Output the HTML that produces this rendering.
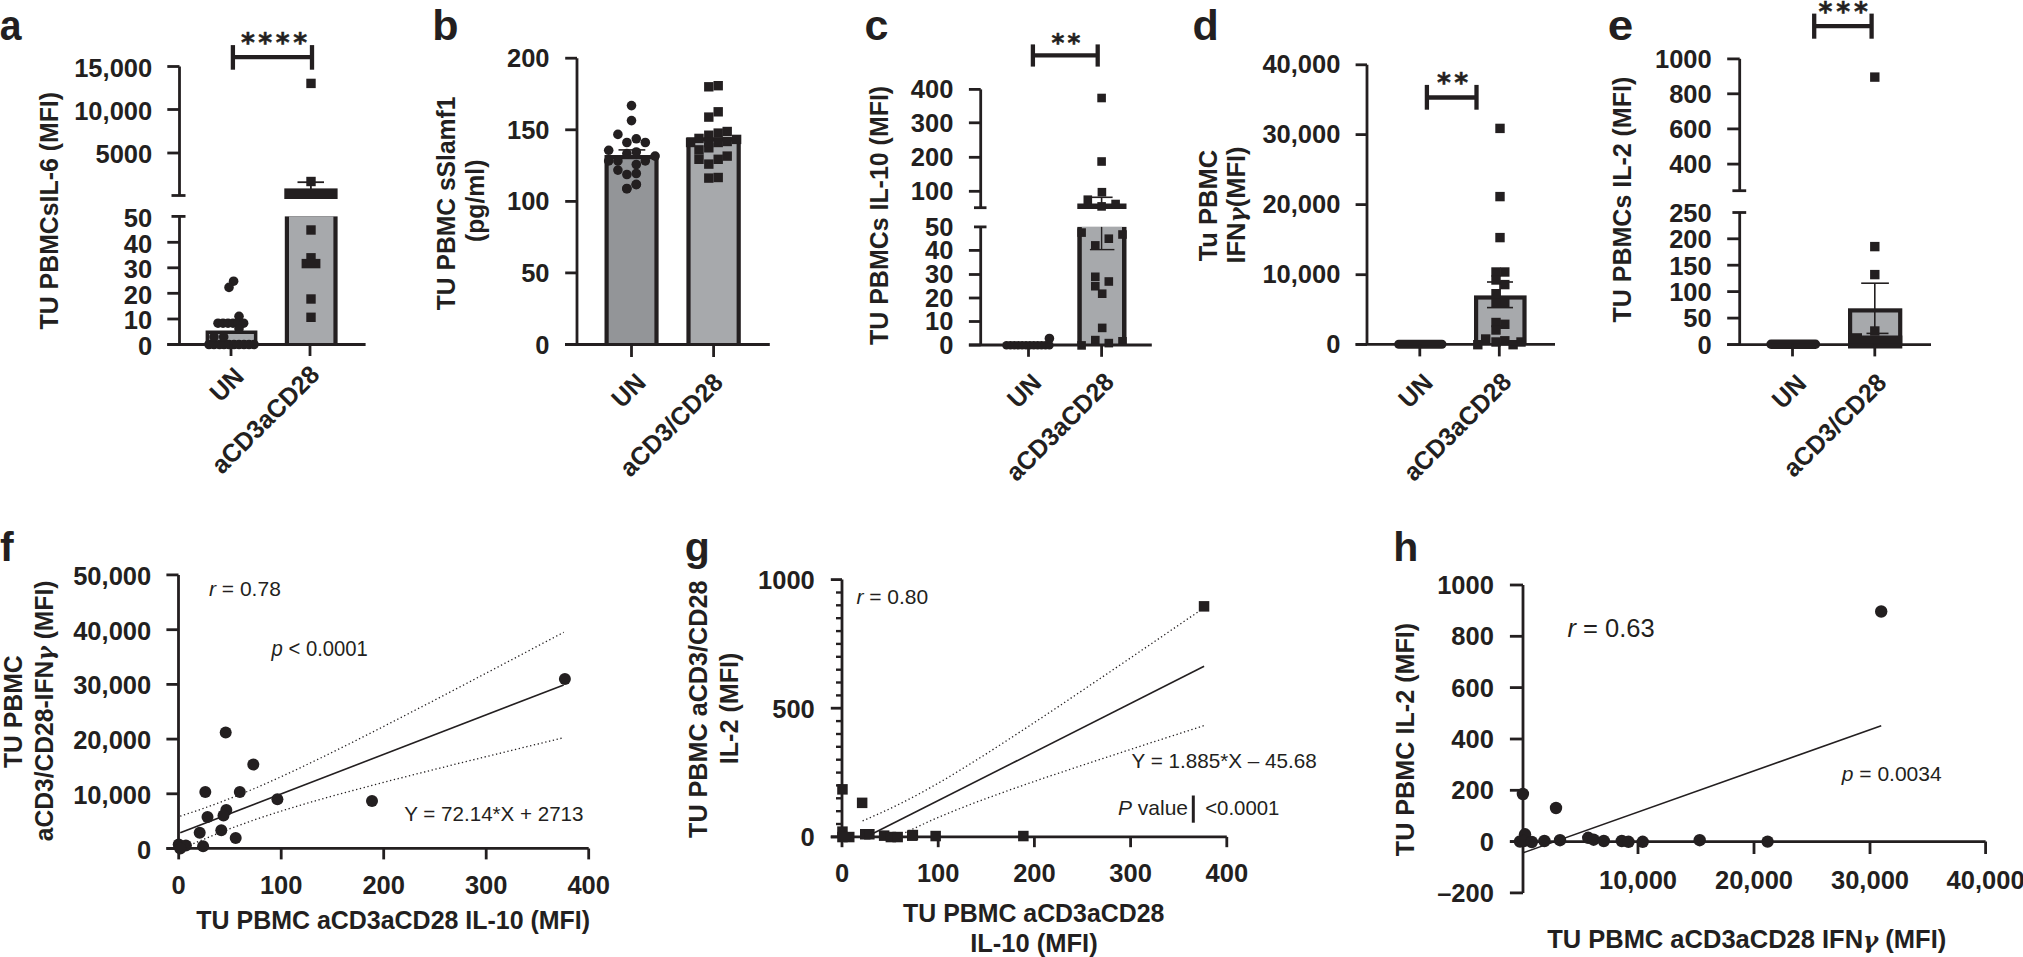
<!DOCTYPE html>
<html><head><meta charset="utf-8"><title>Figure</title>
<style>
html,body{margin:0;padding:0;background:#fff;}
svg{display:block;}
text{font-family:"Liberation Sans",Arial,sans-serif;font-weight:bold;fill:#231f20;}
text.n{font-weight:normal;}
tspan.gam{font-family:"DejaVu Serif",serif;font-style:italic;font-weight:bold;font-size:0.9em;}
text.st{font-family:"DejaVu Sans","Liberation Sans",sans-serif;font-weight:bold;stroke:#231f20;stroke-width:0.5;}
line{stroke:#231f20;}
.dot{fill:none;stroke:#231f20;stroke-width:1.3;stroke-dasharray:1.3 2.6;}
</style></head>
<body>
<svg width="2023" height="957" viewBox="0 0 2023 957" fill="#231f20">
<rect x="0" y="0" width="2023" height="957" fill="#fff"/>
<text font-size="43" transform="translate(-0.2 40.3) scale(0.91 1)">a</text>
<line x1="179.5" y1="66.5" x2="179.5" y2="195.5" stroke-width="2.8" />
<line x1="167.3" y1="66.5" x2="179.5" y2="66.5" stroke-width="2.8" />
<text x="152.2" y="76.8" font-size="25.5" text-anchor="end">15,000</text>
<line x1="167.3" y1="109.5" x2="179.5" y2="109.5" stroke-width="2.8" />
<text x="152.2" y="119.8" font-size="25.5" text-anchor="end">10,000</text>
<line x1="167.3" y1="153.0" x2="179.5" y2="153.0" stroke-width="2.8" />
<text x="152.2" y="163.3" font-size="25.5" text-anchor="end">5000</text>
<line x1="171.5" y1="195.5" x2="185.5" y2="195.5" stroke-width="2.8" />
<line x1="179.5" y1="216.4" x2="179.5" y2="344.5" stroke-width="2.8" />
<line x1="171.5" y1="216.4" x2="185.5" y2="216.4" stroke-width="2.8" />
<text x="152.2" y="226.7" font-size="25.5" text-anchor="end">50</text>
<line x1="167.3" y1="242.3" x2="179.5" y2="242.3" stroke-width="2.8" />
<text x="152.2" y="252.6" font-size="25.5" text-anchor="end">40</text>
<line x1="167.3" y1="267.8" x2="179.5" y2="267.8" stroke-width="2.8" />
<text x="152.2" y="278.1" font-size="25.5" text-anchor="end">30</text>
<line x1="167.3" y1="293.3" x2="179.5" y2="293.3" stroke-width="2.8" />
<text x="152.2" y="303.6" font-size="25.5" text-anchor="end">20</text>
<line x1="167.3" y1="319.0" x2="179.5" y2="319.0" stroke-width="2.8" />
<text x="152.2" y="329.3" font-size="25.5" text-anchor="end">10</text>
<line x1="167.3" y1="344.5" x2="179.5" y2="344.5" stroke-width="2.8" />
<text x="152.2" y="354.8" font-size="25.5" text-anchor="end">0</text>
<rect x="205.6" y="330.5" width="51.8" height="14.0" fill="#231f20"/>
<rect x="209.1" y="334.0" width="44.8" height="10.5" fill="#a7a9ac"/>
<rect x="284.8" y="216.4" width="52.8" height="128.1" fill="#231f20"/>
<rect x="289.0" y="216.4" width="44.4" height="128.1" fill="#a7a9ac"/>
<rect x="284.3" y="188.4" width="53.3" height="10.6" fill="#231f20"/>
<line x1="310.9" y1="182.2" x2="310.9" y2="189.0" stroke-width="1.8" />
<line x1="297.5" y1="182.2" x2="324.0" y2="182.2" stroke-width="1.8" />
<rect x="306.3" y="176.8" width="9.4" height="9.4"/>
<rect x="306.3" y="78.7" width="9.4" height="9.4"/>
<rect x="306.3" y="225.3" width="9.4" height="9.4"/>
<rect x="306.3" y="253.1" width="9.4" height="9.4"/>
<rect x="301.6" y="258.9" width="9.4" height="9.4"/>
<rect x="311.0" y="258.9" width="9.4" height="9.4"/>
<rect x="306.3" y="294.3" width="9.4" height="9.4"/>
<rect x="306.3" y="312.6" width="9.4" height="9.4"/>
<circle cx="233.6" cy="281.2" r="4.8"/>
<circle cx="229.0" cy="287.4" r="4.8"/>
<circle cx="239.0" cy="316.3" r="4.8"/>
<circle cx="218.0" cy="323.2" r="4.8"/>
<circle cx="223.0" cy="323.2" r="4.8"/>
<circle cx="228.0" cy="323.2" r="4.8"/>
<circle cx="233.0" cy="323.2" r="4.8"/>
<circle cx="238.0" cy="323.2" r="4.8"/>
<circle cx="243.6" cy="323.2" r="4.8"/>
<circle cx="239.0" cy="328.8" r="4.8"/>
<circle cx="209.0" cy="344.5" r="4.8"/>
<circle cx="214.0" cy="344.5" r="4.8"/>
<circle cx="219.5" cy="344.5" r="4.8"/>
<circle cx="224.0" cy="344.5" r="4.8"/>
<circle cx="229.0" cy="344.5" r="4.8"/>
<circle cx="234.0" cy="344.5" r="4.8"/>
<circle cx="239.0" cy="344.5" r="4.8"/>
<circle cx="244.0" cy="344.5" r="4.8"/>
<circle cx="249.0" cy="344.5" r="4.8"/>
<circle cx="254.0" cy="344.5" r="4.8"/>
<circle cx="214.0" cy="337.0" r="4.8"/>
<circle cx="223.7" cy="337.0" r="4.8"/>
<line x1="167.3" y1="344.5" x2="365.6" y2="344.5" stroke-width="2.8" />
<line x1="231.0" y1="344.5" x2="231.0" y2="356.0" stroke-width="2.8" />
<line x1="310.0" y1="344.5" x2="310.0" y2="356.0" stroke-width="2.8" />
<text font-size="25.5" text-anchor="end" transform="translate(245.5 378.0) rotate(-45) scale(0.97 1)">UN</text>
<text font-size="25.5" text-anchor="end" transform="translate(321.0 376.2) rotate(-45) scale(0.97 1)">aCD3aCD28</text>
<line x1="232.9" y1="45.1" x2="232.9" y2="69.7" stroke-width="4.3" />
<line x1="312.0" y1="45.1" x2="312.0" y2="69.7" stroke-width="4.3" />
<line x1="232.9" y1="57.2" x2="312.0" y2="57.2" stroke-width="4.3" />
<text class="st" x="247.9" y="52.0" font-size="26.5" text-anchor="middle">*</text>
<text class="st" x="265.2" y="52.0" font-size="26.5" text-anchor="middle">*</text>
<text class="st" x="282.7" y="52.0" font-size="26.5" text-anchor="middle">*</text>
<text class="st" x="300.1" y="52.0" font-size="26.5" text-anchor="middle">*</text>
<text font-size="25.5" text-anchor="middle" transform="translate(58.0 210.7) rotate(-90) scale(0.975 1)">TU PBMCsIL-6 (MFI)</text>
<text x="432.2" y="40.3" font-size="43">b</text>
<line x1="577.0" y1="58.2" x2="577.0" y2="344.5" stroke-width="2.8" />
<line x1="565.2" y1="58.2" x2="577.0" y2="58.2" stroke-width="2.8" />
<text x="549.5" y="67.2" font-size="25.5" text-anchor="end">200</text>
<line x1="565.2" y1="129.8" x2="577.0" y2="129.8" stroke-width="2.8" />
<text x="549.5" y="138.8" font-size="25.5" text-anchor="end">150</text>
<line x1="565.2" y1="201.4" x2="577.0" y2="201.4" stroke-width="2.8" />
<text x="549.5" y="210.4" font-size="25.5" text-anchor="end">100</text>
<line x1="565.2" y1="272.9" x2="577.0" y2="272.9" stroke-width="2.8" />
<text x="549.5" y="281.9" font-size="25.5" text-anchor="end">50</text>
<line x1="565.2" y1="344.5" x2="577.0" y2="344.5" stroke-width="2.8" />
<text x="549.5" y="353.5" font-size="25.5" text-anchor="end">0</text>
<rect x="604.5" y="155.0" width="54.1" height="189.5" fill="#231f20"/>
<rect x="608.7" y="159.2" width="45.7" height="185.3" fill="#939598"/>
<rect x="686.4" y="137.3" width="54.4" height="207.2" fill="#231f20"/>
<rect x="690.6" y="141.5" width="46.0" height="203.0" fill="#a7a9ac"/>
<line x1="618.5" y1="149.9" x2="645.3" y2="149.9" stroke-width="1.6" />
<circle cx="631.5" cy="105.6" r="4.8"/>
<circle cx="631.5" cy="120.6" r="4.8"/>
<circle cx="617.9" cy="134.4" r="4.8"/>
<circle cx="626.9" cy="142.5" r="4.8"/>
<circle cx="636.3" cy="138.8" r="4.8"/>
<circle cx="645.3" cy="142.5" r="4.8"/>
<circle cx="608.7" cy="150.3" r="4.8"/>
<circle cx="626.9" cy="153.6" r="4.8"/>
<circle cx="636.3" cy="152.0" r="4.8"/>
<circle cx="655.1" cy="156.1" r="4.8"/>
<circle cx="608.7" cy="160.9" r="4.8"/>
<circle cx="617.9" cy="160.9" r="4.8"/>
<circle cx="645.3" cy="160.9" r="4.8"/>
<circle cx="636.3" cy="164.5" r="4.8"/>
<circle cx="617.9" cy="170.1" r="4.8"/>
<circle cx="626.9" cy="174.5" r="4.8"/>
<circle cx="636.3" cy="173.5" r="4.8"/>
<circle cx="626.9" cy="188.5" r="4.8"/>
<circle cx="636.3" cy="184.3" r="4.8"/>
<circle cx="626.8" cy="188.8" r="4.8"/>
<circle cx="636.2" cy="184.7" r="4.8"/>
<rect x="704.1" y="82.1" width="9.4" height="9.4"/>
<rect x="713.5" y="81.0" width="9.4" height="9.4"/>
<rect x="704.1" y="112.4" width="9.4" height="9.4"/>
<rect x="713.5" y="107.1" width="9.4" height="9.4"/>
<rect x="704.1" y="130.5" width="9.4" height="9.4"/>
<rect x="713.5" y="128.4" width="9.4" height="9.4"/>
<rect x="722.5" y="126.8" width="9.4" height="9.4"/>
<rect x="694.3" y="133.7" width="9.4" height="9.4"/>
<rect x="685.9" y="137.8" width="9.4" height="9.4"/>
<rect x="731.9" y="134.7" width="9.4" height="9.4"/>
<rect x="694.3" y="145.2" width="9.4" height="9.4"/>
<rect x="694.3" y="154.6" width="9.4" height="9.4"/>
<rect x="704.1" y="143.1" width="9.4" height="9.4"/>
<rect x="704.1" y="159.4" width="9.4" height="9.4"/>
<rect x="713.5" y="154.6" width="9.4" height="9.4"/>
<rect x="722.5" y="151.4" width="9.4" height="9.4"/>
<rect x="722.5" y="136.8" width="9.4" height="9.4"/>
<rect x="704.1" y="173.4" width="9.4" height="9.4"/>
<rect x="713.5" y="172.8" width="9.4" height="9.4"/>
<rect x="713.5" y="137.8" width="9.4" height="9.4"/>
<rect x="704.1" y="137.8" width="9.4" height="9.4"/>
<line x1="565.0" y1="344.5" x2="769.8" y2="344.5" stroke-width="2.8" />
<line x1="631.5" y1="344.5" x2="631.5" y2="357.0" stroke-width="2.8" />
<line x1="713.6" y1="344.5" x2="713.6" y2="357.0" stroke-width="2.8" />
<text font-size="25.5" text-anchor="end" transform="translate(647.3 384.1) rotate(-45) scale(0.97 1)">UN</text>
<text font-size="25.5" text-anchor="end" transform="translate(724.6 384.0) rotate(-45) scale(0.97 1)">aCD3/CD28</text>
<text font-size="25.5" text-anchor="middle" transform="translate(455.2 203.4) rotate(-90) scale(0.967 1)">TU PBMC sSlamf1</text>
<text font-size="25.5" text-anchor="middle" transform="translate(484.0 200.8) rotate(-90) scale(0.97 1)">(pg/ml)</text>
<text x="864.5" y="40.3" font-size="43">c</text>
<line x1="980.7" y1="89.4" x2="980.7" y2="207.7" stroke-width="2.8" />
<line x1="968.9" y1="89.4" x2="980.7" y2="89.4" stroke-width="2.8" />
<text x="953.4" y="98.2" font-size="25.5" text-anchor="end">400</text>
<line x1="968.9" y1="122.8" x2="980.7" y2="122.8" stroke-width="2.8" />
<text x="953.4" y="131.6" font-size="25.5" text-anchor="end">300</text>
<line x1="968.9" y1="157.3" x2="980.7" y2="157.3" stroke-width="2.8" />
<text x="953.4" y="166.1" font-size="25.5" text-anchor="end">200</text>
<line x1="968.9" y1="191.3" x2="980.7" y2="191.3" stroke-width="2.8" />
<text x="953.4" y="200.1" font-size="25.5" text-anchor="end">100</text>
<line x1="974.0" y1="207.7" x2="986.5" y2="207.7" stroke-width="2.8" />
<line x1="980.7" y1="226.9" x2="980.7" y2="345.0" stroke-width="2.8" />
<line x1="974.0" y1="226.9" x2="986.5" y2="226.9" stroke-width="2.8" />
<text x="953.4" y="235.7" font-size="25.5" text-anchor="end">50</text>
<line x1="968.9" y1="250.4" x2="980.7" y2="250.4" stroke-width="2.8" />
<text x="953.4" y="259.2" font-size="25.5" text-anchor="end">40</text>
<line x1="968.9" y1="274.5" x2="980.7" y2="274.5" stroke-width="2.8" />
<text x="953.4" y="283.3" font-size="25.5" text-anchor="end">30</text>
<line x1="968.9" y1="298.0" x2="980.7" y2="298.0" stroke-width="2.8" />
<text x="953.4" y="306.8" font-size="25.5" text-anchor="end">20</text>
<line x1="968.9" y1="321.5" x2="980.7" y2="321.5" stroke-width="2.8" />
<text x="953.4" y="330.3" font-size="25.5" text-anchor="end">10</text>
<line x1="968.9" y1="345.0" x2="980.7" y2="345.0" stroke-width="2.8" />
<text x="953.4" y="353.8" font-size="25.5" text-anchor="end">0</text>
<rect x="1077.3" y="226.9" width="49.2" height="118.1" fill="#231f20"/>
<rect x="1081.8" y="226.9" width="40.2" height="118.1" fill="#a7a9ac"/>
<rect x="1077.3" y="203.5" width="49.2" height="5.5" fill="#231f20"/>
<line x1="1101.6" y1="226.9" x2="1101.6" y2="249.6" stroke-width="1.4" />
<line x1="1089.9" y1="249.6" x2="1114.4" y2="249.6" stroke-width="1.4" />
<line x1="1101.6" y1="197.3" x2="1101.6" y2="204.0" stroke-width="1.6" />
<line x1="1091.7" y1="197.3" x2="1112.6" y2="197.3" stroke-width="1.6" />
<rect x="1097.3" y="93.7" width="8.6" height="8.6"/>
<rect x="1097.3" y="157.2" width="8.6" height="8.6"/>
<rect x="1097.6" y="187.9" width="8.6" height="8.6"/>
<rect x="1083.5" y="195.4" width="8.6" height="8.6"/>
<rect x="1111.3" y="199.7" width="8.6" height="8.6"/>
<rect x="1097.3" y="202.1" width="8.6" height="8.6"/>
<rect x="1077.3" y="228.3" width="8.6" height="8.6"/>
<rect x="1104.5" y="234.4" width="8.6" height="8.6"/>
<rect x="1118.2" y="230.2" width="8.6" height="8.6"/>
<rect x="1091.0" y="241.1" width="8.6" height="8.6"/>
<rect x="1091.0" y="272.5" width="8.6" height="8.6"/>
<rect x="1104.5" y="277.2" width="8.6" height="8.6"/>
<rect x="1091.0" y="281.9" width="8.6" height="8.6"/>
<rect x="1097.9" y="289.4" width="8.6" height="8.6"/>
<rect x="1097.9" y="323.6" width="8.6" height="8.6"/>
<rect x="1091.0" y="335.8" width="8.6" height="8.6"/>
<rect x="1104.5" y="338.8" width="8.6" height="8.6"/>
<rect x="1077.3" y="341.1" width="8.6" height="8.6"/>
<rect x="1118.2" y="337.0" width="8.6" height="8.6"/>
<circle cx="1006.5" cy="345.3" r="4.3"/>
<circle cx="1010.4" cy="345.3" r="4.3"/>
<circle cx="1014.3" cy="345.3" r="4.3"/>
<circle cx="1018.2" cy="345.3" r="4.3"/>
<circle cx="1022.1" cy="345.3" r="4.3"/>
<circle cx="1026.0" cy="345.3" r="4.3"/>
<circle cx="1029.9" cy="345.3" r="4.3"/>
<circle cx="1033.8" cy="345.3" r="4.3"/>
<circle cx="1037.7" cy="345.3" r="4.3"/>
<circle cx="1041.6" cy="345.3" r="4.3"/>
<circle cx="1045.5" cy="345.3" r="4.3"/>
<circle cx="1049.4" cy="345.3" r="4.3"/>
<circle cx="1049.4" cy="338.5" r="4.8"/>
<line x1="968.9" y1="345.0" x2="1151.8" y2="345.0" stroke-width="2.8" />
<line x1="1028.5" y1="345.0" x2="1028.5" y2="356.8" stroke-width="2.8" />
<line x1="1101.6" y1="345.0" x2="1101.6" y2="356.8" stroke-width="2.8" />
<text font-size="25.5" text-anchor="end" transform="translate(1043.0 384.3) rotate(-45) scale(0.97 1)">UN</text>
<text font-size="25.5" text-anchor="end" transform="translate(1115.6 383.5) rotate(-45) scale(0.97 1)">aCD3aCD28</text>
<line x1="1032.9" y1="44.4" x2="1032.9" y2="66.6" stroke-width="4.3" />
<line x1="1097.7" y1="44.4" x2="1097.7" y2="66.6" stroke-width="4.3" />
<line x1="1032.9" y1="55.4" x2="1097.7" y2="55.4" stroke-width="4.3" />
<text class="st" x="1058.0" y="50.6" font-size="24.5" text-anchor="middle">*</text>
<text class="st" x="1074.0" y="50.6" font-size="24.5" text-anchor="middle">*</text>
<text font-size="25.5" text-anchor="middle" transform="translate(888.0 215.4) rotate(-90) scale(0.978 1)">TU PBMCs IL-10 (MFI)</text>
<text x="1192.5" y="40.0" font-size="43">d</text>
<line x1="1367.0" y1="64.8" x2="1367.0" y2="344.3" stroke-width="2.8" />
<line x1="1355.6" y1="64.8" x2="1367.0" y2="64.8" stroke-width="2.8" />
<text x="1340.4" y="73.4" font-size="25.5" text-anchor="end">40,000</text>
<line x1="1355.6" y1="134.6" x2="1367.0" y2="134.6" stroke-width="2.8" />
<text x="1340.4" y="143.2" font-size="25.5" text-anchor="end">30,000</text>
<line x1="1355.6" y1="204.6" x2="1367.0" y2="204.6" stroke-width="2.8" />
<text x="1340.4" y="213.2" font-size="25.5" text-anchor="end">20,000</text>
<line x1="1355.6" y1="274.7" x2="1367.0" y2="274.7" stroke-width="2.8" />
<text x="1340.4" y="283.3" font-size="25.5" text-anchor="end">10,000</text>
<line x1="1355.6" y1="344.5" x2="1367.0" y2="344.5" stroke-width="2.8" />
<text x="1340.4" y="353.1" font-size="25.5" text-anchor="end">0</text>
<rect x="1474.0" y="295.4" width="52.6" height="48.9" fill="#231f20"/>
<rect x="1478.2" y="299.6" width="44.2" height="44.7" fill="#a7a9ac"/>
<line x1="1500.0" y1="282.0" x2="1500.0" y2="307.6" stroke-width="1.6" />
<line x1="1487.0" y1="282.0" x2="1513.0" y2="282.0" stroke-width="1.6" />
<line x1="1487.0" y1="307.6" x2="1513.0" y2="307.6" stroke-width="1.6" />
<rect x="1495.3" y="123.7" width="9.4" height="9.4"/>
<rect x="1495.3" y="191.9" width="9.4" height="9.4"/>
<rect x="1495.3" y="232.9" width="9.4" height="9.4"/>
<rect x="1491.3" y="267.3" width="9.4" height="9.4"/>
<rect x="1500.1" y="267.3" width="9.4" height="9.4"/>
<rect x="1491.3" y="275.3" width="9.4" height="9.4"/>
<rect x="1500.1" y="279.9" width="9.4" height="9.4"/>
<rect x="1491.3" y="289.0" width="9.4" height="9.4"/>
<rect x="1491.3" y="298.3" width="9.4" height="9.4"/>
<rect x="1500.1" y="298.3" width="9.4" height="9.4"/>
<rect x="1491.3" y="317.8" width="9.4" height="9.4"/>
<rect x="1500.1" y="319.6" width="9.4" height="9.4"/>
<rect x="1491.3" y="325.3" width="9.4" height="9.4"/>
<rect x="1481.0" y="334.3" width="9.4" height="9.4"/>
<rect x="1473.1" y="340.0" width="9.4" height="9.4"/>
<rect x="1491.3" y="337.3" width="9.4" height="9.4"/>
<rect x="1500.1" y="336.1" width="9.4" height="9.4"/>
<rect x="1508.4" y="340.0" width="9.4" height="9.4"/>
<rect x="1516.3" y="337.3" width="9.4" height="9.4"/>
<rect x="1394.2" y="339.8" width="52.3" height="9" rx="4.5"/>
<line x1="1355.6" y1="344.3" x2="1555.0" y2="344.3" stroke-width="2.8" />
<line x1="1419.8" y1="344.3" x2="1419.8" y2="356.4" stroke-width="2.8" />
<line x1="1499.3" y1="344.3" x2="1499.3" y2="356.4" stroke-width="2.8" />
<text font-size="25.5" text-anchor="end" transform="translate(1434.3 384.3) rotate(-45) scale(0.97 1)">UN</text>
<text font-size="25.5" text-anchor="end" transform="translate(1513.0 383.5) rotate(-45) scale(0.97 1)">aCD3aCD28</text>
<line x1="1426.9" y1="84.9" x2="1426.9" y2="109.7" stroke-width="4.3" />
<line x1="1476.5" y1="84.9" x2="1476.5" y2="109.7" stroke-width="4.3" />
<line x1="1426.9" y1="97.5" x2="1476.5" y2="97.5" stroke-width="4.3" />
<text class="st" x="1443.9" y="91.9" font-size="26.5" text-anchor="middle">*</text>
<text class="st" x="1461.3" y="91.9" font-size="26.5" text-anchor="middle">*</text>
<text font-size="25.5" text-anchor="middle" transform="translate(1216.6 205.6) rotate(-90)">Tu PBMC</text>
<text font-size="25.5" text-anchor="middle" transform="translate(1245.3 205.0) rotate(-90)">IFN<tspan class="gam">γ</tspan>(MFI)</text>
<text font-size="43" transform="translate(1607.8 40.3) scale(1.067 1)">e</text>
<line x1="1739.7" y1="58.8" x2="1739.7" y2="190.7" stroke-width="2.8" />
<line x1="1727.2" y1="58.9" x2="1739.7" y2="58.9" stroke-width="2.8" />
<text x="1711.7" y="68.2" font-size="25.5" text-anchor="end">1000</text>
<line x1="1727.2" y1="93.8" x2="1739.7" y2="93.8" stroke-width="2.8" />
<text x="1711.7" y="103.1" font-size="25.5" text-anchor="end">800</text>
<line x1="1727.2" y1="128.9" x2="1739.7" y2="128.9" stroke-width="2.8" />
<text x="1711.7" y="138.2" font-size="25.5" text-anchor="end">600</text>
<line x1="1727.2" y1="164.1" x2="1739.7" y2="164.1" stroke-width="2.8" />
<text x="1711.7" y="173.4" font-size="25.5" text-anchor="end">400</text>
<line x1="1732.4" y1="190.7" x2="1746.2" y2="190.7" stroke-width="2.8" />
<line x1="1739.7" y1="212.5" x2="1739.7" y2="344.6" stroke-width="2.8" />
<line x1="1732.4" y1="212.5" x2="1746.2" y2="212.5" stroke-width="2.8" />
<text x="1711.7" y="221.8" font-size="25.5" text-anchor="end">250</text>
<line x1="1727.2" y1="238.8" x2="1739.7" y2="238.8" stroke-width="2.8" />
<text x="1711.7" y="248.1" font-size="25.5" text-anchor="end">200</text>
<line x1="1727.2" y1="265.2" x2="1739.7" y2="265.2" stroke-width="2.8" />
<text x="1711.7" y="274.5" font-size="25.5" text-anchor="end">150</text>
<line x1="1727.2" y1="291.6" x2="1739.7" y2="291.6" stroke-width="2.8" />
<text x="1711.7" y="300.9" font-size="25.5" text-anchor="end">100</text>
<line x1="1727.2" y1="318.1" x2="1739.7" y2="318.1" stroke-width="2.8" />
<text x="1711.7" y="327.4" font-size="25.5" text-anchor="end">50</text>
<line x1="1727.2" y1="344.6" x2="1739.7" y2="344.6" stroke-width="2.8" />
<text x="1711.7" y="353.9" font-size="25.5" text-anchor="end">0</text>
<rect x="1848.0" y="308.3" width="54.3" height="36.3" fill="#231f20"/>
<rect x="1852.2" y="312.5" width="45.9" height="32.1" fill="#a7a9ac"/>
<line x1="1874.8" y1="283.2" x2="1874.8" y2="333.6" stroke-width="1.6" />
<line x1="1861.2" y1="283.2" x2="1888.9" y2="283.2" stroke-width="1.6" />
<line x1="1866.5" y1="333.4" x2="1888.5" y2="333.4" stroke-width="1.6" />
<rect x="1870.1" y="72.4" width="9.4" height="9.4"/>
<rect x="1870.1" y="241.9" width="9.4" height="9.4"/>
<rect x="1870.1" y="269.9" width="9.4" height="9.4"/>
<rect x="1870.1" y="326.3" width="9.4" height="9.4"/>
<rect x="1848.0" y="335.5" width="54.3" height="13.0" fill="#231f20"/>
<rect x="1848.0" y="333.2" width="14.0" height="2.8" fill="#231f20"/>
<rect x="1766.3" y="339.6" width="53.9" height="9.4" rx="4.7"/>
<line x1="1727.2" y1="344.6" x2="1931.0" y2="344.6" stroke-width="2.8" />
<line x1="1792.5" y1="344.6" x2="1792.5" y2="356.4" stroke-width="2.8" />
<line x1="1874.8" y1="344.6" x2="1874.8" y2="356.4" stroke-width="2.8" />
<text font-size="25.5" text-anchor="end" transform="translate(1807.8 385.0) rotate(-45) scale(0.97 1)">UN</text>
<text font-size="25.5" text-anchor="end" transform="translate(1888.1 384.3) rotate(-45) scale(0.97 1)">aCD3/CD28</text>
<line x1="1814.2" y1="13.6" x2="1814.2" y2="38.7" stroke-width="4.3" />
<line x1="1871.6" y1="13.6" x2="1871.6" y2="38.7" stroke-width="4.3" />
<line x1="1814.2" y1="26.1" x2="1871.6" y2="26.1" stroke-width="4.3" />
<text class="st" x="1825.5" y="20.5" font-size="26.5" text-anchor="middle">*</text>
<text class="st" x="1843.2" y="20.5" font-size="26.5" text-anchor="middle">*</text>
<text class="st" x="1861.0" y="20.5" font-size="26.5" text-anchor="middle">*</text>
<text font-size="25.5" text-anchor="middle" transform="translate(1630.7 199.6) rotate(-90) scale(0.98 1)">TU PBMCs IL-2 (MFI)</text>
<text x="0.1" y="560.7" font-size="41">f</text>
<line x1="178.5" y1="574.9" x2="178.5" y2="848.4" stroke-width="2.8" />
<line x1="166.4" y1="574.9" x2="178.5" y2="574.9" stroke-width="2.8" />
<text x="151.2" y="584.9" font-size="25.5" text-anchor="end">50,000</text>
<line x1="166.4" y1="629.7" x2="178.5" y2="629.7" stroke-width="2.8" />
<text x="151.2" y="639.7" font-size="25.5" text-anchor="end">40,000</text>
<line x1="166.4" y1="684.4" x2="178.5" y2="684.4" stroke-width="2.8" />
<text x="151.2" y="694.4" font-size="25.5" text-anchor="end">30,000</text>
<line x1="166.4" y1="739.1" x2="178.5" y2="739.1" stroke-width="2.8" />
<text x="151.2" y="749.1" font-size="25.5" text-anchor="end">20,000</text>
<line x1="166.4" y1="793.8" x2="178.5" y2="793.8" stroke-width="2.8" />
<text x="151.2" y="803.8" font-size="25.5" text-anchor="end">10,000</text>
<line x1="166.4" y1="848.5" x2="178.5" y2="848.5" stroke-width="2.8" />
<text x="151.2" y="858.5" font-size="25.5" text-anchor="end">0</text>
<line x1="166.4" y1="848.4" x2="588.7" y2="848.4" stroke-width="2.8" />
<line x1="178.7" y1="848.5" x2="178.7" y2="859.4" stroke-width="2.8" />
<text x="178.7" y="893.7" font-size="25.5" text-anchor="middle">0</text>
<line x1="281.2" y1="848.5" x2="281.2" y2="859.4" stroke-width="2.8" />
<text x="281.2" y="893.7" font-size="25.5" text-anchor="middle">100</text>
<line x1="383.7" y1="848.5" x2="383.7" y2="859.4" stroke-width="2.8" />
<text x="383.7" y="893.7" font-size="25.5" text-anchor="middle">200</text>
<line x1="486.2" y1="848.5" x2="486.2" y2="859.4" stroke-width="2.8" />
<text x="486.2" y="893.7" font-size="25.5" text-anchor="middle">300</text>
<line x1="588.7" y1="848.5" x2="588.7" y2="859.4" stroke-width="2.8" />
<text x="588.7" y="893.7" font-size="25.5" text-anchor="middle">400</text>
<text font-size="25.5" text-anchor="middle" transform="translate(393.2 929.2) scale(0.979 1)">TU PBMC aCD3aCD28 IL-10 (MFI)</text>
<text font-size="25.5" text-anchor="middle" transform="translate(21.8 711.7) rotate(-90) scale(0.97 1)">TU PBMC</text>
<text font-size="25.5" text-anchor="middle" transform="translate(53.0 710.9) rotate(-90) scale(0.965 1)">aCD3/CD28-IFN<tspan class="gam">γ</tspan> (MFI)</text>
<polyline points="180.2,816.2 189.8,813.0 199.4,809.8 209.0,806.4 218.6,802.9 228.1,799.2 237.7,795.4 247.3,791.5 256.9,787.5 266.5,783.3 276.1,779.0 285.7,774.6 295.2,770.2 304.8,765.6 314.4,761.0 324.0,756.4 333.6,751.6 343.2,746.9 352.8,742.1 362.4,737.2 372.0,732.4 381.5,727.5 391.1,722.6 400.7,717.7 410.3,712.7 419.9,707.7 429.5,702.8 439.1,697.8 448.7,692.8 458.2,687.8 467.8,682.8 477.4,677.7 487.0,672.7 496.6,667.7 506.2,662.6 515.8,657.6 525.4,652.5 534.9,647.5 544.5,642.4 554.1,637.4 563.7,632.3" class="dot"/>
<polyline points="189.8,845.2 199.4,841.0 209.0,837.0 218.6,833.2 228.1,829.4 237.7,825.8 247.3,822.4 256.9,819.0 266.5,815.8 276.1,812.7 285.7,809.7 295.2,806.8 304.8,803.9 314.4,801.1 324.0,798.4 333.6,795.7 343.2,793.1 352.8,790.5 362.4,787.9 372.0,785.4 381.5,782.9 391.1,780.4 400.7,778.0 410.3,775.5 419.9,773.1 429.5,770.7 439.1,768.3 448.7,765.9 458.2,763.5 467.8,761.1 477.4,758.8 487.0,756.4 496.6,754.1 506.2,751.7 515.8,749.4 525.4,747.0 534.9,744.7 544.5,742.4 554.1,740.0 563.7,737.7" class="dot"/>
<line x1="180.2" y1="832.8" x2="563.7" y2="685.0" stroke-width="1.6" />
<circle cx="225.7" cy="732.5" r="6"/>
<circle cx="253.3" cy="764.5" r="6"/>
<circle cx="205.3" cy="792.0" r="6"/>
<circle cx="239.8" cy="792.0" r="6"/>
<circle cx="277.4" cy="799.2" r="6"/>
<circle cx="226.3" cy="809.9" r="6"/>
<circle cx="223.5" cy="815.5" r="6"/>
<circle cx="207.5" cy="817.1" r="6"/>
<circle cx="199.7" cy="832.8" r="6"/>
<circle cx="221.3" cy="830.3" r="6"/>
<circle cx="235.7" cy="838.1" r="6"/>
<circle cx="203.1" cy="846.3" r="6"/>
<circle cx="178.7" cy="844.4" r="6"/>
<circle cx="185.9" cy="845.6" r="6"/>
<circle cx="180.2" cy="848.5" r="6"/>
<circle cx="564.9" cy="679.1" r="6"/>
<circle cx="372.0" cy="801.0" r="6"/>
<text x="209" y="596" font-size="21" class="n"><tspan font-style="italic">r</tspan> = 0.78</text>
<text class="n" font-size="22.5" transform="translate(271.6 655.8) scale(0.9 1)"><tspan font-style="italic">p</tspan> &lt; 0.0001</text>
<text class="n" font-size="21" transform="translate(404.3 820.8) scale(0.98 1)">Y = 72.14*X + 2713</text>
<text x="684.8" y="560.5" font-size="41">g</text>
<line x1="842.0" y1="579.6" x2="842.0" y2="836.9" stroke-width="2.8" />
<line x1="830.8" y1="836.9" x2="842.0" y2="836.9" stroke-width="2.8" />
<line x1="836.0" y1="824.0" x2="842.0" y2="824.0" stroke-width="2.4" />
<line x1="836.0" y1="811.2" x2="842.0" y2="811.2" stroke-width="2.4" />
<line x1="836.0" y1="798.3" x2="842.0" y2="798.3" stroke-width="2.4" />
<line x1="836.0" y1="785.4" x2="842.0" y2="785.4" stroke-width="2.4" />
<line x1="836.0" y1="772.6" x2="842.0" y2="772.6" stroke-width="2.4" />
<line x1="836.0" y1="759.7" x2="842.0" y2="759.7" stroke-width="2.4" />
<line x1="836.0" y1="746.8" x2="842.0" y2="746.8" stroke-width="2.4" />
<line x1="836.0" y1="734.0" x2="842.0" y2="734.0" stroke-width="2.4" />
<line x1="836.0" y1="721.1" x2="842.0" y2="721.1" stroke-width="2.4" />
<line x1="830.8" y1="708.2" x2="842.0" y2="708.2" stroke-width="2.8" />
<line x1="836.0" y1="695.4" x2="842.0" y2="695.4" stroke-width="2.4" />
<line x1="836.0" y1="682.5" x2="842.0" y2="682.5" stroke-width="2.4" />
<line x1="836.0" y1="669.7" x2="842.0" y2="669.7" stroke-width="2.4" />
<line x1="836.0" y1="656.8" x2="842.0" y2="656.8" stroke-width="2.4" />
<line x1="836.0" y1="643.9" x2="842.0" y2="643.9" stroke-width="2.4" />
<line x1="836.0" y1="631.1" x2="842.0" y2="631.1" stroke-width="2.4" />
<line x1="836.0" y1="618.2" x2="842.0" y2="618.2" stroke-width="2.4" />
<line x1="836.0" y1="605.3" x2="842.0" y2="605.3" stroke-width="2.4" />
<line x1="836.0" y1="592.5" x2="842.0" y2="592.5" stroke-width="2.4" />
<line x1="830.8" y1="579.6" x2="842.0" y2="579.6" stroke-width="2.8" />
<text x="814.8" y="589.1" font-size="25.5" text-anchor="end">1000</text>
<text x="814.8" y="717.8" font-size="25.5" text-anchor="end">500</text>
<text x="814.8" y="846.4" font-size="25.5" text-anchor="end">0</text>
<line x1="830.8" y1="836.9" x2="1226.8" y2="836.9" stroke-width="2.8" />
<line x1="842.0" y1="836.9" x2="842.0" y2="847.2" stroke-width="2.8" />
<text x="842.0" y="882.0" font-size="25.5" text-anchor="middle">0</text>
<line x1="938.2" y1="836.9" x2="938.2" y2="847.2" stroke-width="2.8" />
<text x="938.2" y="882.0" font-size="25.5" text-anchor="middle">100</text>
<line x1="1034.4" y1="836.9" x2="1034.4" y2="847.2" stroke-width="2.8" />
<text x="1034.4" y="882.0" font-size="25.5" text-anchor="middle">200</text>
<line x1="1130.6" y1="836.9" x2="1130.6" y2="847.2" stroke-width="2.8" />
<text x="1130.6" y="882.0" font-size="25.5" text-anchor="middle">300</text>
<line x1="1226.8" y1="836.9" x2="1226.8" y2="847.2" stroke-width="2.8" />
<text x="1226.8" y="882.0" font-size="25.5" text-anchor="middle">400</text>
<text font-size="25.5" text-anchor="middle" transform="translate(1033.7 922.0) scale(0.976 1)">TU PBMC aCD3aCD28</text>
<text x="1033.9" y="952.0" font-size="25.5" text-anchor="middle">IL-10 (MFI)</text>
<text font-size="25.5" text-anchor="middle" transform="translate(706.7 709.3) rotate(-90) scale(0.988 1)">TU PBMC aCD3/CD28</text>
<text font-size="25.5" text-anchor="middle" transform="translate(737.6 708.4) rotate(-90) scale(0.986 1)">IL-2 (MFI)</text>
<polyline points="862.6,820.9 871.1,817.2 879.7,813.4 888.2,809.5 896.8,805.4 905.3,801.1 913.8,796.7 922.4,792.1 930.9,787.3 939.4,782.5 948.0,777.5 956.5,772.3 965.0,767.1 973.6,761.8 982.1,756.5 990.7,751.0 999.2,745.5 1007.7,740.0 1016.3,734.4 1024.8,728.8 1033.3,723.2 1041.9,717.6 1050.4,711.9 1059.0,706.2 1067.5,700.5 1076.0,694.7 1084.6,689.0 1093.1,683.2 1101.6,677.5 1110.2,671.7 1118.7,665.9 1127.3,660.1 1135.8,654.3 1144.3,648.5 1152.9,642.7 1161.4,636.9 1169.9,631.1 1178.5,625.2 1187.0,619.4 1195.6,613.6 1204.1,607.7" class="dot"/>
<polyline points="905.3,832.6 913.8,828.5 922.4,824.5 930.9,820.6 939.4,816.9 948.0,813.3 956.5,809.9 965.0,806.5 973.6,803.2 982.1,800.0 990.7,796.9 999.2,793.8 1007.7,790.7 1016.3,787.7 1024.8,784.7 1033.3,781.8 1041.9,778.8 1050.4,775.9 1059.0,773.1 1067.5,770.2 1076.0,767.3 1084.6,764.5 1093.1,761.7 1101.6,758.9 1110.2,756.1 1118.7,753.3 1127.3,750.5 1135.8,747.7 1144.3,744.9 1152.9,742.1 1161.4,739.4 1169.9,736.6 1178.5,733.9 1187.0,731.1 1195.6,728.4 1204.1,725.6" class="dot"/>
<line x1="868.0" y1="836.0" x2="1204.1" y2="666.3" stroke-width="1.6" />
<rect x="837.2" y="784.1" width="10.5" height="10.5"/>
<rect x="856.9" y="797.6" width="10.5" height="10.5"/>
<rect x="837.2" y="826.4" width="10.5" height="10.5"/>
<rect x="837.2" y="831.8" width="10.5" height="10.5"/>
<rect x="844.0" y="831.8" width="10.5" height="10.5"/>
<rect x="860.0" y="829.0" width="10.5" height="10.5"/>
<rect x="864.1" y="829.0" width="10.5" height="10.5"/>
<rect x="878.9" y="830.4" width="10.5" height="10.5"/>
<rect x="885.6" y="831.8" width="10.5" height="10.5"/>
<rect x="892.4" y="831.8" width="10.5" height="10.5"/>
<rect x="907.0" y="830.4" width="10.5" height="10.5"/>
<rect x="907.6" y="829.8" width="10.5" height="10.5"/>
<rect x="930.4" y="830.8" width="10.5" height="10.5"/>
<rect x="1018.1" y="830.8" width="10.5" height="10.5"/>
<rect x="1198.8" y="601.1" width="10.5" height="10.5"/>
<text x="856.4" y="604.1" font-size="21" class="n"><tspan font-style="italic">r</tspan> = 0.80</text>
<text class="n" font-size="21" transform="translate(1131.6 768.1) scale(0.985 1)">Y = 1.885*X – 45.68</text>
<text x="1118" y="815" font-size="21" class="n"><tspan font-style="italic">P</tspan> value</text>
<line x1="1193.3" y1="795.5" x2="1193.3" y2="822.7" stroke-width="3" />
<text class="n" font-size="21" transform="translate(1205.2 815) scale(0.97 1)">&lt;0.0001</text>
<text x="1393.2" y="560.7" font-size="41">h</text>
<line x1="1523.0" y1="585.0" x2="1523.0" y2="892.9" stroke-width="2.8" />
<line x1="1509.9" y1="585.0" x2="1523.0" y2="585.0" stroke-width="2.8" />
<text x="1493.9" y="594.0" font-size="25.5" text-anchor="end">1000</text>
<line x1="1509.9" y1="636.3" x2="1523.0" y2="636.3" stroke-width="2.8" />
<text x="1493.9" y="645.3" font-size="25.5" text-anchor="end">800</text>
<line x1="1509.9" y1="687.6" x2="1523.0" y2="687.6" stroke-width="2.8" />
<text x="1493.9" y="696.6" font-size="25.5" text-anchor="end">600</text>
<line x1="1509.9" y1="739.0" x2="1523.0" y2="739.0" stroke-width="2.8" />
<text x="1493.9" y="748.0" font-size="25.5" text-anchor="end">400</text>
<line x1="1509.9" y1="790.3" x2="1523.0" y2="790.3" stroke-width="2.8" />
<text x="1493.9" y="799.3" font-size="25.5" text-anchor="end">200</text>
<line x1="1509.9" y1="841.6" x2="1523.0" y2="841.6" stroke-width="2.8" />
<text x="1493.9" y="850.6" font-size="25.5" text-anchor="end">0</text>
<line x1="1509.9" y1="892.9" x2="1523.0" y2="892.9" stroke-width="2.8" />
<text x="1493.9" y="901.9" font-size="25.5" text-anchor="end">–200</text>
<line x1="1509.9" y1="841.6" x2="1985.6" y2="841.6" stroke-width="2.8" />
<line x1="1638.0" y1="841.5" x2="1638.0" y2="854.0" stroke-width="2.8" />
<text x="1638.0" y="889.3" font-size="25.5" text-anchor="middle">10,000</text>
<line x1="1754.0" y1="841.5" x2="1754.0" y2="854.0" stroke-width="2.8" />
<text x="1754.0" y="889.3" font-size="25.5" text-anchor="middle">20,000</text>
<line x1="1870.0" y1="841.5" x2="1870.0" y2="854.0" stroke-width="2.8" />
<text x="1870.0" y="889.3" font-size="25.5" text-anchor="middle">30,000</text>
<line x1="1985.6" y1="841.5" x2="1985.6" y2="854.0" stroke-width="2.8" />
<text x="1985.6" y="889.3" font-size="25.5" text-anchor="middle">40,000</text>
<text x="1746.7" y="947.5" font-size="25.5" text-anchor="middle">TU PBMC aCD3aCD28 IFN<tspan class="gam">γ</tspan> (MFI)</text>
<text font-size="25.5" text-anchor="middle" transform="translate(1414.0 739.5) rotate(-90) scale(0.987 1)">TU PBMC IL-2 (MFI)</text>
<line x1="1523.7" y1="852.6" x2="1881.2" y2="725.7" stroke-width="1.6" />
<circle cx="1522.9" cy="794.0" r="6.2"/>
<circle cx="1556.0" cy="808.0" r="6.2"/>
<circle cx="1525.0" cy="834.3" r="6.2"/>
<circle cx="1520.0" cy="841.5" r="6.2"/>
<circle cx="1523.7" cy="841.0" r="6.2"/>
<circle cx="1531.8" cy="842.0" r="6.2"/>
<circle cx="1544.4" cy="841.0" r="6.2"/>
<circle cx="1560.0" cy="840.2" r="6.2"/>
<circle cx="1588.2" cy="837.8" r="6.2"/>
<circle cx="1593.6" cy="839.7" r="6.2"/>
<circle cx="1603.8" cy="841.0" r="6.2"/>
<circle cx="1621.8" cy="841.0" r="6.2"/>
<circle cx="1628.5" cy="841.8" r="6.2"/>
<circle cx="1642.7" cy="841.8" r="6.2"/>
<circle cx="1699.7" cy="840.2" r="6.2"/>
<circle cx="1767.6" cy="841.6" r="6.2"/>
<circle cx="1881.2" cy="611.5" r="6.2"/>
<text x="1567.4" y="637.2" font-size="25.5" class="n"><tspan font-style="italic">r</tspan> = 0.63</text>
<text x="1841.8" y="780.9" font-size="21" class="n"><tspan font-style="italic">p</tspan> = 0.0034</text>
</svg>
</body></html>
